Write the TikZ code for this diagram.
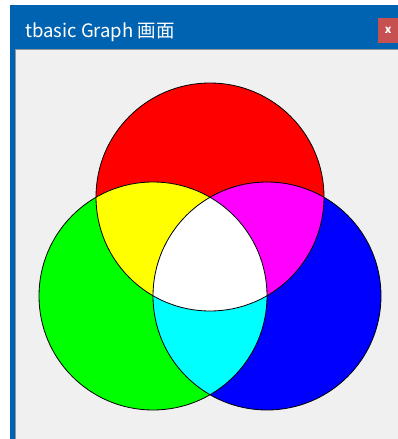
\documentclass[tikz,border=0pt]{standalone}
\usepackage{fontspec}
\newfontfamily\cjk{Noto Sans CJK JP}
\usepackage{tikz}
\usetikzlibrary{positioning}
\definecolor{winblue}{RGB}{0,99,177}
\definecolor{panelgray}{RGB}{240,240,240}
\definecolor{edgegray}{RGB}{150,150,150}
\definecolor{closered}{RGB}{199,80,80}
\definecolor{pred}{RGB}{255,0,0}
\definecolor{pgreen}{RGB}{0,255,0}
\definecolor{pblue}{RGB}{0,0,255}
\definecolor{pyellow}{RGB}{255,255,0}
\definecolor{pmagenta}{RGB}{255,0,255}
\definecolor{pcyan}{RGB}{0,255,255}

\begin{document}
\begin{tikzpicture}[
  x=1pt, y=-1pt,
  ring/.style={draw=black, line width=0.8pt},
  titletext/.style={anchor=base west, inner sep=0, text=white,
    font=\cjk\fontsize{18.5}{21}\selectfont}
]
  \useasboundingbox (0,0) rectangle (398,439);
  \fill[white] (0,0) rectangle (398,439);

  % window frame and client area
  \fill[winblue] (10,5) rectangle (398,439);
  \fill[panelgray] (15,49) rectangle (398,439);
  \draw[edgegray] (15,439) -- (15,49) -- (398,49);

  \node (title) [titletext] at (25,37) {tbasic Graph 画面};
  \node (close) [anchor=north west, fill=closered, minimum width=20pt,
    minimum height=25pt, inner sep=0, text=white,
    font=\cjk\bfseries\fontsize{11}{11}\selectfont]
    at (378,18) {x};

  % three circles
  \def\rad{114pt}
  \coordinate (rc) at (210,197);
  \coordinate (gc) at (153,296);
  \coordinate (bc) at (267,296);

  \fill[pred]   (rc) circle (\rad);
  \fill[pgreen] (gc) circle (\rad);
  \fill[pblue]  (bc) circle (\rad);

  \begin{scope}
    \clip (rc) circle (\rad);
    \fill[pyellow] (gc) circle (\rad);
    \fill[pmagenta] (bc) circle (\rad);
  \end{scope}
  \begin{scope}
    \clip (gc) circle (\rad);
    \fill[pcyan] (bc) circle (\rad);
  \end{scope}
  \begin{scope}
    \clip (rc) circle (\rad);
    \clip (gc) circle (\rad);
    \fill[white] (bc) circle (\rad);
  \end{scope}

  \draw[ring] (rc) circle (\rad);
  \draw[ring] (gc) circle (\rad);
  \draw[ring] (bc) circle (\rad);
\end{tikzpicture}
\end{document}
